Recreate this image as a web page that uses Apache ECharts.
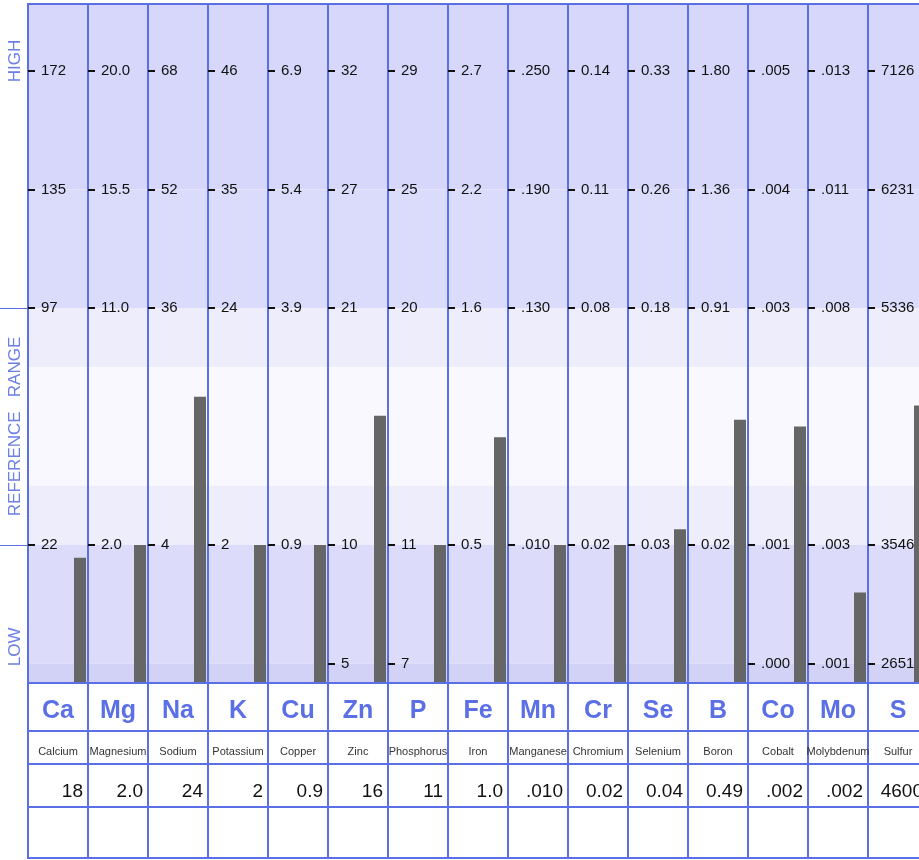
<!DOCTYPE html>
<html><head><meta charset="utf-8">
<script src="https://cdn.jsdelivr.net/npm/echarts@6/dist/echarts.min.js"></script>
<style>html,body{margin:0;padding:0;background:#fff}#c{width:919px;height:860px}</style>
</head><body><div id="c"></div>
<script>
// ---- data ----
const symbols = ['Ca','Mg','Na','K','Cu','Zn','P','Fe','Mn','Cr','Se','B','Co','Mo','S'];
const names = ['Calcium','Magnesium','Sodium','Potassium','Copper','Zinc','Phosphorus','Iron','Manganese','Chromium','Selenium','Boron','Cobalt','Molybdenum','Sulfur'];
const values = [18, 2.0, 24, 2, 0.9, 16, 11, 1.0, 0.010, 0.02, 0.04, 0.49, 0.002, 0.002, 4600];
const valueLabels = ['18','2.0','24','2','0.9','16','11','1.0','.010','0.02','0.04','0.49','.002','.002','4600'];
const tickTop = ['172','20.0','68','46','6.9','32','29','2.7','.250','0.14','0.33','1.80','.005','.013','7126'];
const tickMid = ['135','15.5','52','35','5.4','27','25','2.2','.190','0.11','0.26','1.36','.004','.011','6231'];
const refHighLabels = ['97','11.0','36','24','3.9','21','20','1.6','.130','0.08','0.18','0.91','.003','.008','5336'];
const refLowLabels = ['22','2.0','4','2','0.9','10','11','0.5','.010','0.02','0.03','0.02','.001','.003','3546'];
const tickBottom = [null,null,null,null,null,'5','7',null,null,null,null,null,'.000','.001','2651'];
const zoneLabels = ['HIGH','REFERENCE   RANGE','LOW'];

// ---- layout ----
const LEFT = 28, COL_W = 60, TOP = 4, PLOT_H = 679, TABLE_H = 175;
const BAR_OFF = 46, BAR_W = 12;
const N_BOTTOM = -0.5823, N_TOP = 2.2827;   // plot extent in units of the reference range
const ZONE_POS = [2.042, 0.5, -0.43];
const BLUE = '#5b6fe6';
const FONT = "'Liberation Sans', Arial, sans-serif";

const refLow = refLowLabels.map(Number);
const refHigh = refHighLabels.map(Number);

function nearest(list, v) {
  let best = list[0], d = Infinity;
  list.forEach(t => { const e = Math.abs(t.v - v); if (e < d) { d = e; best = t; } });
  return best.t;
}

const grids = [], xAxes = [], yAxes = [], series = [];

// background grid with zone bands and column lines
grids.push({left: LEFT, top: TOP, width: COL_W * symbols.length, height: PLOT_H, show: true,
  outerBoundsMode: 'none', borderColor: BLUE, borderWidth: 2, backgroundColor: 'transparent', z: 3});
xAxes.push({gridIndex: 0, type: 'category', data: symbols, z: 3,
  axisLine: {show: false}, axisTick: {show: false, interval: 0}, axisLabel: {show: false},
  splitLine: {show: true, interval: 0, lineStyle: {color: BLUE, width: 2}}});
const zoneTicks = ZONE_POS.map((v, i) => ({v, t: zoneLabels[i]}));
yAxes.push({gridIndex: 0, type: 'value', min: N_BOTTOM, max: N_TOP, z: 3,
  axisLine: {show: false}, splitLine: {show: false},
  axisTick: {show: true, customValues: [0, 1], length: LEFT, lineStyle: {color: BLUE, width: 1}},
  axisLabel: {show: true, customValues: ZONE_POS, rotate: 90, margin: 4,
    formatter: v => nearest(zoneTicks, v), color: '#6b7fe4', fontFamily: FONT, fontSize: 17}});
const bands = [
  [1.5, N_TOP, '#d7d7fb'],
  [1, 1.5, '#dbdbfb'],
  [0.75, 1, '#ededfc'],
  [0.25, 0.75, '#f8f8fe'],
  [0, 0.25, '#ededfc'],
  [-0.5, 0, '#dcdcfa'],
  [N_BOTTOM, -0.5, '#d2d2f7']
];
series.push({type: 'line', xAxisIndex: 0, yAxisIndex: 0, data: [], silent: true,
  markArea: {silent: true, data: bands.map(b => [{yAxis: b[0], itemStyle: {color: b[2]}}, {yAxis: b[1]}])}});

// per-element columns
symbols.forEach((s, i) => {
  const lo = refLow[i], hi = refHigh[i], r = hi - lo;
  const min = lo + N_BOTTOM * r, max = lo + N_TOP * r;
  const ticks = [{v: hi + r, t: tickTop[i]}, {v: hi + r / 2, t: tickMid[i]}, {v: hi, t: refHighLabels[i]}, {v: lo, t: refLowLabels[i]}];
  if (tickBottom[i] !== null) ticks.push({v: lo - r / 2, t: tickBottom[i]});
  const gi = grids.length;
  grids.push({left: LEFT + COL_W * i, top: TOP, width: COL_W, height: PLOT_H, show: false, outerBoundsMode: 'none'});
  xAxes.push({gridIndex: gi, type: 'category', data: [s], show: false});
  yAxes.push({gridIndex: gi, type: 'value', min, max, z: 5,
    axisLine: {show: false}, splitLine: {show: false},
    axisTick: {show: true, inside: true, length: 7, customValues: ticks.map(t => t.v), lineStyle: {color: '#111', width: 2}},
    axisLabel: {show: true, inside: true, margin: 13, customValues: ticks.map(t => t.v),
      formatter: v => nearest(ticks, v), color: '#111', fontSize: 15, fontFamily: FONT}});
  const bi = grids.length;
  grids.push({left: LEFT + COL_W * i + BAR_OFF, top: TOP, width: BAR_W, height: PLOT_H, show: false, outerBoundsMode: 'none'});
  xAxes.push({gridIndex: bi, type: 'category', data: [s], show: false});
  yAxes.push({gridIndex: bi, type: 'value', min, max, startValue: min, show: false});
  series.push({type: 'bar', name: names[i], xAxisIndex: bi, yAxisIndex: bi, data: [values[i]],
    barWidth: '100%', itemStyle: {color: '#666666'}, z: 2, silent: true});
});

// table
const ti = grids.length;
grids.push({left: LEFT, top: TOP + PLOT_H, width: COL_W * symbols.length, height: TABLE_H, show: true,
  outerBoundsMode: 'none', borderColor: BLUE, borderWidth: 2, z: 3});
xAxes.push({gridIndex: ti, type: 'category', data: symbols, position: 'top', z: 3,
  axisLine: {show: false}, axisTick: {show: false, interval: 0},
  splitLine: {show: true, interval: 0, lineStyle: {color: BLUE, width: 2}},
  axisLabel: {show: true, interval: 0, inside: true, margin: 0, width: 50, overflow: 'none',
    formatter: (v, idx) => `{s|${v}}\n{n|${names[idx]}}\n{v|${valueLabels[idx]}}`,
    rich: {
      s: {fontFamily: FONT, fontWeight: 'bold', fontSize: 25, color: BLUE, lineHeight: 56, align: 'center'},
      n: {fontFamily: FONT, fontSize: 11, color: '#333', lineHeight: 26, align: 'center'},
      v: {fontFamily: FONT, fontSize: 19, color: '#111', lineHeight: 54, align: 'right'}
    }}});
yAxes.push({gridIndex: ti, type: 'value', min: 0, max: TABLE_H, inverse: true,
  axisLine: {show: false}, axisLabel: {show: false},
  axisTick: {show: false, customValues: [48, 81, 124]},
  splitLine: {show: true, lineStyle: {color: BLUE, width: 2}}});

const chart = echarts.init(document.getElementById('c'), null, {renderer: 'canvas'});
chart.setOption({animation: false, backgroundColor: '#fff', grid: grids, xAxis: xAxes, yAxis: yAxes, series});
</script>
</body></html>
